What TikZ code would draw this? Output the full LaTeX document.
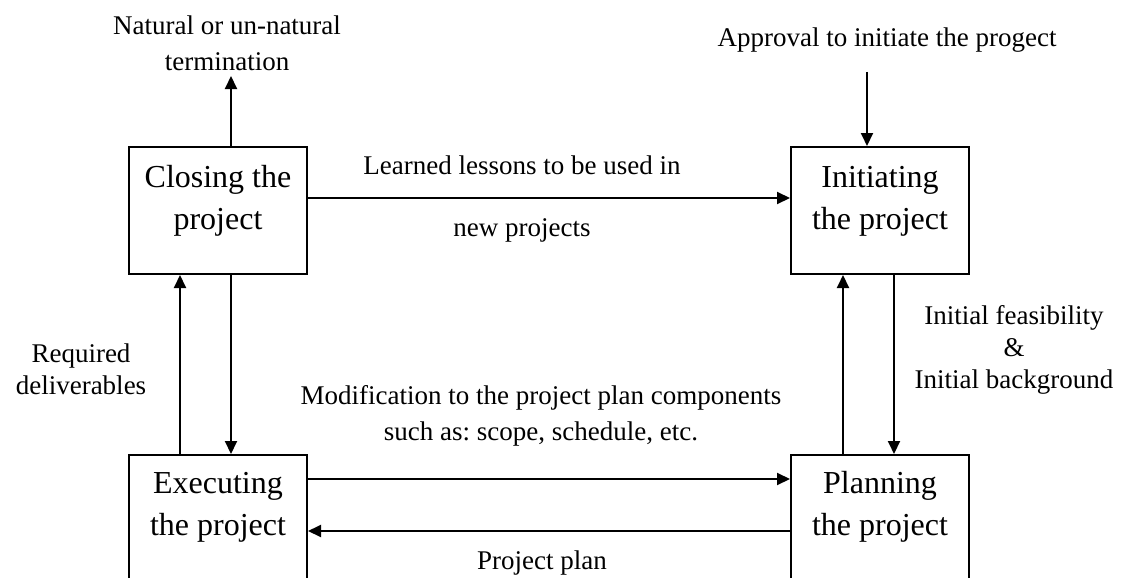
\documentclass[tikz,border=0pt]{standalone}
\usepackage{fontspec}
\setmainfont{Liberation Serif}
\usetikzlibrary{positioning,arrows.meta}
\frenchspacing

\newcommand{\stagetext}[3][20pt]{\begin{tabular}{@{}c@{}}#2\\#3\\[#1]\end{tabular}}

\begin{document}
\begin{tikzpicture}[x=1pt,y=-1pt,>={Triangle[length=13pt,width=12pt]},
			line width=2pt,
			stagebox/.style={
				draw,
				minimum width=178pt,
				minimum height=127pt,
				inner sep=0pt,
				align=center,
				font=\fontsize{32}{42}\selectfont
			},
			notetext/.style={
				align=center,
				inner sep=0pt,
				font=\fontsize{27}{32}\selectfont
			}]
			
			\useasboundingbox (0,0) rectangle (1127,578);
			
			\clip (0,0) rectangle (1127,578);
			
			\node[stagebox] (closing) at (218,210.5){\stagetext{Closing the}{project}};
			
			\node[stagebox, right=482pt of closing] (initiating){\stagetext{Initiating}{the project}};
			
			\node[stagebox, below=179pt of closing] (executing){\stagetext[24pt]{Executing}{the project}};
			
			\node[stagebox, below=179pt of initiating] (planning){\stagetext[24pt]{Planning}{the project}};
			
			\node[notetext] (termination) at (227,43){Natural or un-natural\\[4pt]termination};
			
			\node[notetext] (approval) at (887,40){Approval to initiate the progect};
			
			\node[notetext] (lessons) at (522,199){Learned lessons to be used in\\[30pt]new projects};
			
			\node[notetext] (deliverables) at (81,369){Required\\deliverables};
			
			\node[notetext] (feasibility) at (1014,350){Initial feasibility\\\&\\Initial background};
			
			\node[notetext] (modification) at (541,416){Modification to the project plan components\\[4pt]such as: scope, schedule, etc.};
			
			\node[notetext] (plan) at (542,563){Project plan};
			
			\coordinate (termend) at (231,76);
			
			\coordinate (approvalstart) at (867,72);
			
			\draw[->]([xshift=13pt]closing.north)--(termend);
			
			\draw[->](approvalstart)--(approvalstart |- initiating.north);
			
			\draw[->]([yshift=12.5pt]closing.east)--([yshift=12.5pt]initiating.west);
			
			\draw[->]([xshift=14pt]initiating.south)--([xshift=14pt]planning.north);
			
			\draw[->]([xshift=-37pt]planning.north)--([xshift=-37pt]initiating.south);
			
			\draw[->]([xshift=13pt]closing.south)--([xshift=13pt]executing.north);
			
			\draw[->]([xshift=-38pt]executing.north)--([xshift=-38pt]closing.south);
			
			\draw[->]([yshift=39.5pt]executing.east)--([yshift=39.5pt]planning.west);
			
			\draw[->]([yshift=-12.5pt]planning.west)--([yshift=-12.5pt]executing.east);
			
		\end{tikzpicture}
\end{document}
